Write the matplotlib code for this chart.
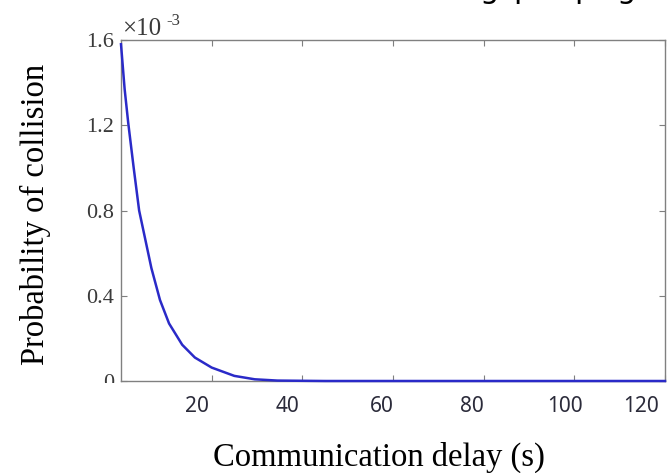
import matplotlib
matplotlib.use('Agg')
import matplotlib.pyplot as plt
import matplotlib.transforms as mtransforms
from matplotlib.patches import Rectangle

# curve (probability in units of 1e-3)
delay_s = [0, 0.8, 1.6, 2.8, 4.0, 5.2, 6.7, 8.6, 10.6, 13.5, 16.3, 20.0, 25.0, 29.5, 34.5, 45, 120]
prob_e3 = [1.58, 1.37, 1.21, 1.00, 0.80, 0.68, 0.53, 0.38, 0.27, 0.17, 0.11, 0.063, 0.024, 0.008, 0.002, 0, 0]

x_ticks = [20, 40, 60, 80, 100, 120]
x_tick_labels = ['20', '40', '60', '80', '100', '120']
y_ticks = [0, 0.4, 0.8, 1.2, 1.6]
y_tick_labels = ['0', '0.4', '0.8', '1.2', '1.6']

W, H = 671, 473
fig = plt.figure(figsize=(W / 100, H / 100), dpi=100)
ax = fig.add_axes([121 / W, 1 - 381 / H, (665 - 121) / W, (381 - 40) / H])

ax.plot(delay_s, prob_e3, color='#2a2ac8', lw=1.8, clip_on=False, zorder=3)

ax.set_xlim(0, 120)
ax.set_ylim(0, 1.6)
ax.set_xticks(x_ticks)
ax.set_xticklabels(x_tick_labels, fontfamily='Noto Sans', fontsize=15, color='#2b2b3a')
ax.set_yticks(y_ticks)
ax.set_yticklabels(y_tick_labels, fontfamily='Liberation Serif', fontsize=16, color='#3a3a3a')

ax.tick_params(direction='in', length=4, width=0.8, color='#7f7f7f', top=True, right=True)
ax.tick_params(axis='x', pad=11)
ax.tick_params(axis='y', pad=5)
for s in ax.spines.values():
    s.set_color('#808080')
    s.set_linewidth(1.0)

# x tick labels sit a bit left of their ticks in the original
label_shift_px = [-15, -15, -11, -12, -9, -24]
for lbl, dx in zip(ax.get_xticklabels(), label_shift_px):
    lbl.set_transform(lbl.get_transform() + mtransforms.ScaledTranslation(dx / 100, 0, fig.dpi_scale_trans))

ax.set_xlabel('Communication delay (s)', fontfamily='Liberation Serif', fontsize=23.5, va='center')
ax.xaxis.set_label_coords((379 - 121) / 544, (381 - 457) / 341)
ax.set_ylabel('Probability of collision', fontfamily='Liberation Serif', fontsize=23.5, va='center')
ax.yaxis.set_label_coords((35 - 121) / 544, (381 - 214) / 341)

# exponent marker
fig.text(122 / W, 1 - 35 / H, '×10', fontfamily='Liberation Serif', fontsize=18, color='#3a3a3a', va='baseline')
fig.text(166 / W, 1 - 25 / H, '-3', fontfamily='Liberation Serif', fontsize=12, color='#3a3a3a', va='baseline')

# the "0" label is half hidden in the original
fig.add_artist(Rectangle((85 / W, 1 - 400 / H), 34 / W, 17 / H, transform=fig.transFigure,
                         facecolor='white', edgecolor='none', zorder=10))

# bits of a text line cut off at the top edge
for ch, xp in [(')', -6), ('g', 479), ('p', 513), ('p', 574), ('g', 616)]:
    fig.text(xp / W, 1 + 2 / H, ch, fontfamily='DejaVu Sans', fontsize=22, color='black', va='baseline')

plt.savefig('out.png', dpi=100)
plt.close(fig)
